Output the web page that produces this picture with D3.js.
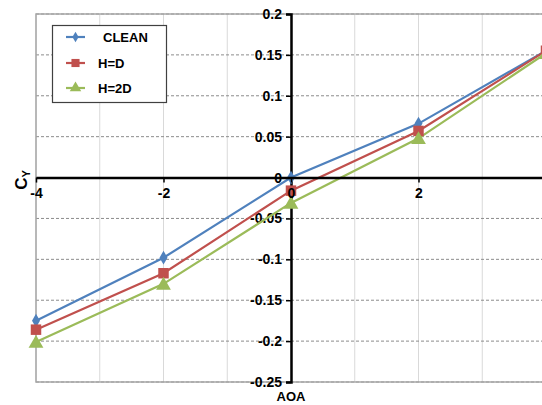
<!DOCTYPE html>
<html><head><meta charset="utf-8">
<script src="https://cdn.jsdelivr.net/npm/d3@7"></script>
<style>body{margin:0;background:#fff}text{font-family:"Liberation Sans",Arial,sans-serif;font-weight:bold}</style>
</head><body><svg id="c" width="542" height="405"></svg>
<script>
const aoa = [-4, -2, 0, 2, 4];
const clean = [-0.175, -0.098, 0.0, 0.066, 0.155];
const hD = [-0.186, -0.117, -0.016, 0.057, 0.155];
const h2D = [-0.201, -0.130, -0.031, 0.048, 0.152];
const seriesNames = ["CLEAN", "H=D", "H=2D"];
const colors = ["#4F81BD", "#C0504D", "#9BBB59"];
const xTicks = [-4, -2, 0, 2];
const yTicks = [0.2, 0.15, 0.1, 0.05, 0, -0.05, -0.1, -0.15, -0.2, -0.25];

const svg = d3.select("#c");
const x = d3.scaleLinear().domain([-4, 4]).range([36, 546]);
const y = d3.scaleLinear().domain([-0.25, 0.2]).range([382, 14]);
const fmt = d => String(+(+d).toFixed(2));

// vertical grid
svg.append("g").selectAll("line").data(d3.range(-4, 5, 1)).join("line")
  .attr("x1", d => x(d)).attr("x2", d => x(d)).attr("y1", y(0.2)).attr("y2", y(-0.25))
  .attr("stroke", "#d9d9d9").attr("stroke-width", 1);
// horizontal dashed grid
svg.append("g").selectAll("line").data(yTicks.filter(v => v !== 0)).join("line")
  .attr("x1", x(-4)).attr("x2", x(4)).attr("y1", d => y(d)).attr("y2", d => y(d))
  .attr("stroke", "#8c8c8c").attr("stroke-width", 1).attr("stroke-dasharray", "3,2");
// frame
svg.append("path").attr("d", `M${x(4)},${y(0.2)}H${x(-4)}V${y(-0.25)}H${x(4)}`)
  .attr("fill", "none").attr("stroke", "#a6a6a6").attr("stroke-width", 1.5);

// axes
const yAxis = d3.axisLeft(y).tickValues(yTicks).tickSize(5).tickPadding(4).tickFormat(fmt);
const gy = svg.append("g").attr("transform", `translate(${x(0)},0)`).call(yAxis);
gy.select(".domain").attr("stroke", "#000").attr("stroke-width", 2.5);
gy.selectAll(".tick line").attr("stroke", "#000").attr("stroke-width", 1.5);
gy.selectAll("text").attr("font-size", 14).attr("fill", "#000");

const xAxis = d3.axisBottom(x).tickValues(xTicks).tickSize(5).tickPadding(6).tickSizeOuter(0).tickFormat(fmt);
const gx = svg.append("g").attr("transform", `translate(0,${y(0)})`).call(xAxis);
gx.select(".domain").attr("stroke", "#000").attr("stroke-width", 2.5);
gx.selectAll(".tick line").attr("stroke", "#000").attr("stroke-width", 1.5);
gx.selectAll("text").attr("font-size", 14).attr("fill", "#000");

// series
const allSeries = [clean, hD, h2D];
const line = d3.line().x((d, i) => x(aoa[i])).y(d => y(d));
const sym = [d3.symbolDiamond, d3.symbolSquare, d3.symbolTriangle];
const symSize = [55, 110, 95];
allSeries.forEach((s, k) => {
  svg.append("path").datum(s).attr("d", line).attr("fill", "none")
    .attr("stroke", colors[k]).attr("stroke-width", 2.2);
});
allSeries.forEach((s, k) => {
  svg.append("g").selectAll("path").data(s).join("path")
    .attr("transform", (d, i) => `translate(${x(aoa[i])},${y(d) + (k === 2 ? 1.5 : 0)})`)
    .attr("d", d3.symbol().type(sym[k]).size(symSize[k]))
    .attr("fill", colors[k]);
});
// bring x tick labels on top of marks
gx.raise();

// axis titles
const ct = svg.append("text").attr("transform", "translate(27,180) rotate(-90)")
  .attr("text-anchor", "middle").attr("font-size", 17).attr("fill", "#000");
ct.append("tspan").text("C");
ct.append("tspan").attr("font-size", 11).attr("dy", 3).text("Y");
svg.append("text").attr("x", x(0)).attr("y", 401).attr("text-anchor", "middle")
  .attr("font-size", 13).attr("fill", "#000").text("AOA");

// legend
const lg = svg.append("g");
lg.append("rect").attr("x", 52.5).attr("y", 25.5).attr("width", 114).attr("height", 77)
  .attr("fill", "#fff").attr("stroke", "#404040").attr("stroke-width", 1.2);
const lgY = [37, 63, 88];
const lgTx = [103, 98, 98];
seriesNames.forEach((n, k) => {
  lg.append("line").attr("x1", 66).attr("x2", 85).attr("y1", lgY[k]).attr("y2", lgY[k])
    .attr("stroke", colors[k]).attr("stroke-width", 2.2);
  lg.append("path").attr("transform", `translate(75.5,${lgY[k]})`)
    .attr("d", d3.symbol().type(sym[k]).size(symSize[k] * 0.6)).attr("fill", colors[k]);
  lg.append("text").attr("x", lgTx[k]).attr("y", lgY[k] + 5).attr("font-size", 13)
    .attr("fill", "#000").text(n);
});
</script></body></html>
